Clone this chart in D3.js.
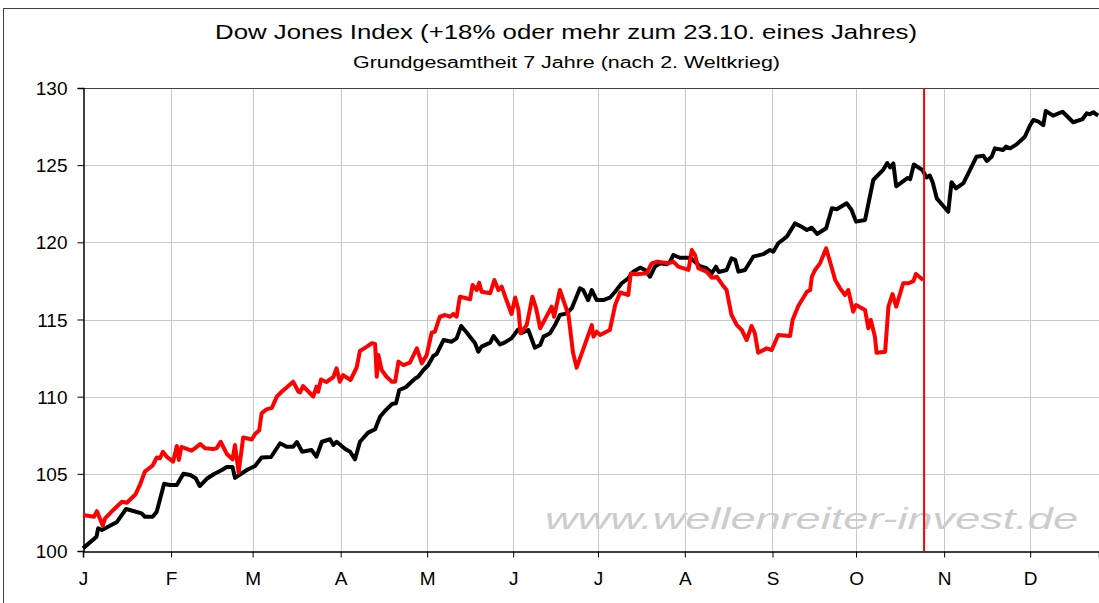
<!DOCTYPE html>
<html>
<head>
<meta charset="utf-8">
<script src="https://cdn.jsdelivr.net/npm/d3@7"></script>
<style>
  html, body { margin: 0; padding: 0; background: #fff; }
  svg { display: block; }
  text { font-family: "Liberation Sans", Arial, sans-serif; }
</style>
</head>
<body>
<svg id="chart" width="1099" height="603"></svg>
<script>
// ---- DATA ----
const titleText = "Dow Jones Index (+18% oder mehr zum 23.10. eines Jahres)";
const subtitleText = "Grundgesamtheit 7 Jahre (nach 2. Weltkrieg)";
const watermarkText = "www.wellenreiter-invest.de";

const monthLabels = ["J","F","M","A","M","J","J","A","S","O","N","D"];
// month start positions in trading days
const monthStarts = [0, 21.5, 41.4, 62.9, 84.0, 105.0, 125.7, 146.9, 168.3, 188.7, 210.2, 231.2];
const yTicks = [100, 105, 110, 115, 120, 125, 130];
const markerDay = 205.3; // 23.10.

// Seasonal average (7 years, black)
const avgDays = [0,3.3,3.7,4.6,8.2,10.5,12.3,14.3,15.1,17,18,19.8,21.2,22.9,24.5,26.2,27.5,28.5,30.2,32,33.8,35.1,36.5,37.1,38.5,40.2,42,43.6,45.9,48.1,49.7,51.3,52.2,53.5,55.8,57,58.3,60.3,61.1,61.9,64,65.2,66.4,67.6,69.6,71.3,72.5,73.7,75.4,76.4,77.2,78.8,80.2,81,81.8,83.1,84.3,85.5,86.3,88,90,91.2,92.3,93.7,95.7,96.5,97.3,99.4,100.2,101.8,103,104.6,106.2,107.1,108.7,110.3,111.6,112.4,114,115.2,116.4,118.1,119.3,121.3,122.1,123.3,124.2,125.4,127,128.6,129.9,131.5,133.1,134.3,136,137.2,138.4,139.6,140.8,142.5,143.3,144.1,145.7,148.2,150.6,152.2,153.5,154.5,155.2,157.1,158.3,159.2,160,161.6,163.6,166.1,167.7,168.5,169.7,171.8,173.8,175.4,176.7,177.9,179.2,181.4,182.8,184,186.4,187.6,188.7,190.9,192.9,195.3,196.3,197,197.8,198.5,201.3,201.9,202.8,204.9,205.9,206.7,207.4,208.4,211.2,212,213.1,214.9,216.1,218.1,219.8,220.6,221.8,222.6,224.6,225.3,226.3,227.9,229.9,231.2,232,233.2,234.4,235,236.8,239.1,241.7,244,245,245.8,246.6,247.8];
const avgValues = [100.17,100.93,101.47,101.36,101.86,102.72,102.59,102.44,102.22,102.22,102.55,104.36,104.28,104.28,105.01,104.92,104.71,104.21,104.68,104.99,105.23,105.44,105.44,104.74,104.99,105.28,105.51,106.06,106.09,106.98,106.76,106.76,107.06,106.43,106.54,106.11,107.08,107.24,106.87,107.08,106.61,106.43,105.94,107.08,107.67,107.89,108.7,109.07,109.52,109.57,110.43,110.61,110.97,111.16,111.29,111.73,112.05,112.63,112.76,113.67,113.56,113.78,114.58,114.14,113.46,112.91,113.24,113.5,113.93,113.38,113.52,113.78,114.35,114.13,114.32,113.17,113.35,113.89,114.11,114.64,115.29,115.4,115.73,117.02,116.91,116.26,116.91,116.26,116.26,116.41,116.8,117.35,117.67,118.1,118.36,118.21,117.77,118.42,118.64,118.58,118.75,119.18,119.0,119.0,118.45,118.32,118.01,118.42,118.08,118.21,118.97,118.86,118.1,118.21,119.07,119.24,119.5,119.39,119.94,120.37,121.23,121.01,120.8,120.95,120.54,120.91,122.21,122.14,122.53,122.1,121.34,121.45,124.04,124.69,125.14,124.85,125.11,123.63,124.17,124.08,125.04,124.69,124.2,124.33,123.89,122.85,121.98,123.89,123.5,123.83,124.47,125.55,125.61,125.27,125.55,126.09,125.98,126.2,126.09,126.35,126.84,127.6,127.93,127.82,127.6,128.51,128.21,128.46,127.78,127.99,128.36,128.3,128.43,128.21];

// Current year (red)
const curDays = [0,2.7,3.4,4.8,5.4,7.4,9.5,10.7,12.8,13.9,15.1,17,18,18.8,19.5,20.4,22,22.9,23.4,24,26.5,27.3,28.6,29.8,31.8,32.6,33.6,35.1,36.5,37.1,38,39.1,41.2,42,43,43.6,44.8,46.1,47.3,48.5,51.3,52.6,53,53.7,56.2,57,57.4,58.1,59.4,61.1,61.9,62.7,63.5,65.3,66.8,67.6,69.3,70.5,71.3,71.7,72.1,72.9,74.1,75.4,76.2,77,78.2,79.8,81.5,82.7,83.9,85.1,85.9,87.1,88.4,89.6,90.4,91.2,92,94.5,95.1,96.1,96.7,97.3,99.4,100.4,101.4,102.2,103.4,104.6,105.5,106.3,106.8,108.3,109.7,110.6,111.6,114.4,115,116.4,118.5,119.6,120.5,124.2,124.6,125.4,126.2,128.6,129.9,131.1,133.1,133.7,135.2,137.6,138.8,140.2,142.9,144.1,145.3,147.8,148.6,149.4,150.2,152.2,153.5,154.7,156.1,157.1,158.3,159.6,160.8,162,163.2,164,164.8,166.9,168.1,169.7,172.6,173.2,174.6,176.7,177.5,177.9,178.7,179.9,181.4,182.8,183.6,184.8,186,186.8,188,188.7,190.9,191.7,192.3,193.3,193.7,195.8,196.6,197.6,198.5,200.2,201.5,202.7,203.3,205.1];
const curValues = [102.33,102.22,102.58,101.65,102.12,102.66,103.19,103.13,103.66,104.28,105.14,105.54,106.06,106.01,106.43,106.12,105.79,106.8,105.9,106.74,106.5,106.65,106.93,106.65,106.61,106.65,107.08,106.29,105.94,106.87,105.09,107.35,107.22,107.58,107.81,108.92,109.18,109.27,110.0,110.32,110.97,110.32,110.27,110.69,110.01,110.65,110.32,111.11,110.95,111.27,111.84,110.97,111.4,111.08,111.89,112.96,113.24,113.46,113.41,111.29,112.7,111.73,111.29,110.97,110.97,112.27,112.05,112.2,113.13,112.16,112.7,114.14,114.21,115.18,115.29,115.18,115.36,115.18,116.48,116.31,117.24,116.91,117.38,116.8,116.7,117.56,116.91,117.13,116.23,115.36,116.43,115.62,114.11,114.64,116.48,115.73,114.43,115.83,115.18,116.91,115.29,112.86,111.88,114.64,113.89,114.21,114.0,114.32,115.94,116.75,116.59,117.98,117.93,117.99,118.64,118.75,118.64,118.75,118.42,118.21,119.5,119.18,118.32,118.1,117.71,117.77,117.24,116.91,115.29,114.64,114.32,113.67,114.58,114.11,112.85,113.13,113.02,114.0,113.93,114.97,115.87,116.8,116.91,117.77,118.21,118.64,119.61,118.32,117.56,117.02,116.59,116.91,115.51,115.94,115.62,114.43,114.97,113.89,112.85,112.91,115.83,116.65,115.83,117.35,117.35,117.49,117.95,117.56];

// ---- CHART ----
const svg = d3.select("#chart");
const plot = { left: 83, top: 88, right: 1099, bottom: 551 };

const x = d3.scaleLinear().domain([0, 248]).range([plot.left, plot.right]);
const y = d3.scaleLinear().domain([100, 130]).range([plot.bottom, plot.top]);

// outer chart border
svg.append("rect")
  .attr("x", 3.5).attr("y", 8.5).attr("width", 1110).attr("height", 610)
  .attr("fill", "none").attr("stroke", "#404040").attr("stroke-width", 1);

// titles
svg.append("text").attr("x", 566).attr("y", 39).attr("text-anchor", "middle")
  .attr("font-size", 21).attr("fill", "#000")
  .attr("textLength", 702).attr("lengthAdjust", "spacingAndGlyphs")
  .text(titleText);
svg.append("text").attr("x", 566.5).attr("y", 68).attr("text-anchor", "middle")
  .attr("font-size", 16).attr("fill", "#000")
  .attr("textLength", 427).attr("lengthAdjust", "spacingAndGlyphs")
  .text(subtitleText);

// gridlines
const grid = svg.append("g");
grid.selectAll("line.h").data(yTicks.filter(v => v > 100 && v < 130)).enter()
  .append("line").attr("class", "h")
  .attr("x1", plot.left).attr("x2", plot.right)
  .attr("y1", d => Math.round(y(d)) + 0.5).attr("y2", d => Math.round(y(d)) + 0.5)
  .attr("stroke", "#c8c8c8").attr("stroke-width", 1);
grid.selectAll("line.v").data(monthStarts.slice(1)).enter()
  .append("line").attr("class", "v")
  .attr("x1", d => Math.round(x(d)) + 0.5).attr("x2", d => Math.round(x(d)) + 0.5)
  .attr("y1", plot.top).attr("y2", plot.bottom)
  .attr("stroke", "#c8c8c8").attr("stroke-width", 1);
// top border of plot
svg.append("line").attr("x1", plot.left).attr("x2", plot.right)
  .attr("y1", y(130) + 0.5).attr("y2", y(130) + 0.5)
  .attr("stroke", "#404040").attr("stroke-width", 1);

// watermark
svg.append("text").attr("x", 545).attr("y", 529)
  .attr("font-size", 30).attr("font-style", "italic").attr("fill", "#cccccc")
  .attr("textLength", 533).attr("lengthAdjust", "spacingAndGlyphs")
  .text(watermarkText);

// axes
const yAxis = d3.axisLeft(y).tickValues(yTicks).tickSize(6).tickPadding(10).tickFormat(d3.format("d"));
const yG = svg.append("g").attr("transform", `translate(${plot.left + 0.5},0)`).call(yAxis);
yG.select(".domain").attr("stroke", "#000").attr("stroke-width", 1.5);
yG.selectAll(".tick line").attr("stroke", "#000");
yG.selectAll(".tick text").attr("font-size", 19).attr("fill", "#000")
  .attr("font-family", "Liberation Sans, Arial, sans-serif").attr("dy", "0.35em");

const xAxis = d3.axisBottom(x).tickValues(monthStarts).tickSize(6).tickPadding(14)
  .tickFormat((d, i) => monthLabels[i]);
const xG = svg.append("g").attr("transform", `translate(0,${plot.bottom + 0.5})`).call(xAxis);
xG.select(".domain").attr("stroke", "#000").attr("stroke-width", 1.5);
xG.selectAll(".tick line").attr("stroke", "#000");
xG.selectAll(".tick text").attr("font-size", 19).attr("fill", "#000")
  .attr("font-family", "Liberation Sans, Arial, sans-serif");

// lines
const line = d3.line().x(d => x(d[0])).y(d => y(d[1]));
svg.append("path").datum(d3.zip(avgDays, avgValues))
  .attr("d", line).attr("fill", "none").attr("stroke", "#000")
  .attr("stroke-width", 4).attr("stroke-linejoin", "round");
svg.append("path").datum(d3.zip(curDays, curValues))
  .attr("d", line).attr("fill", "none").attr("stroke", "#ff0000")
  .attr("stroke-width", 4).attr("stroke-linejoin", "round");

// marker line 23.10.
svg.append("line")
  .attr("x1", x(markerDay)).attr("x2", x(markerDay))
  .attr("y1", plot.top).attr("y2", plot.bottom)
  .attr("stroke", "#ff0000").attr("stroke-width", 2);
</script>
</body>
</html>
